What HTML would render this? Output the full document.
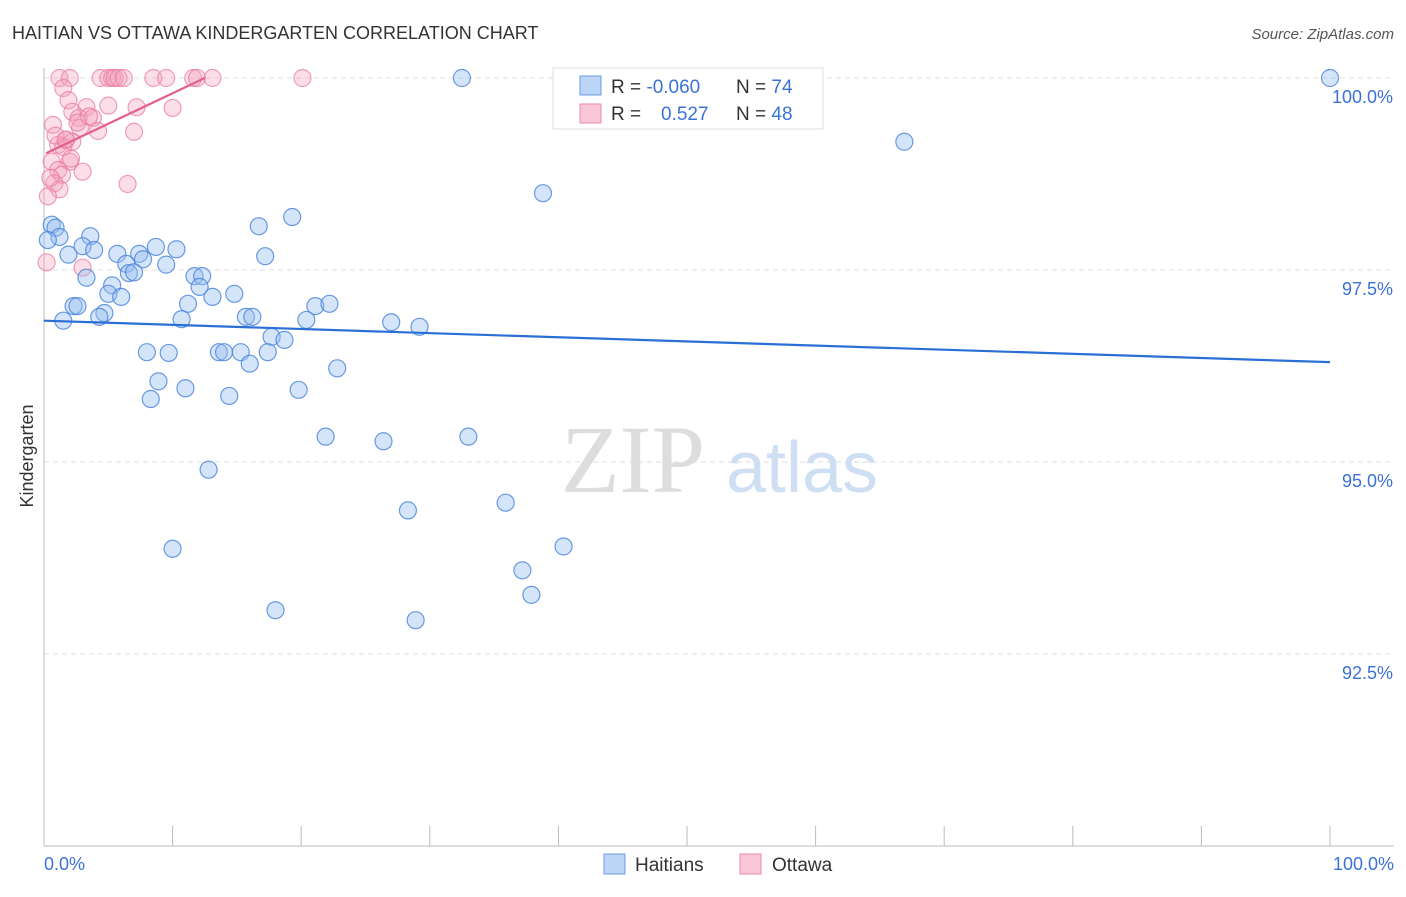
<!DOCTYPE html>
<html><head><meta charset="utf-8"><style>
body{margin:0;background:#fff;font-family:"Liberation Sans",sans-serif}
</style></head><body>
<svg width="1406" height="892" xmlns="http://www.w3.org/2000/svg">
<text x="12" y="39" font-size="18" fill="#333">HAITIAN VS OTTAWA KINDERGARTEN CORRELATION CHART</text>
<text x="1394" y="39" font-size="15" fill="#555" text-anchor="end" font-style="italic">Source: ZipAtlas.com</text>
<g id="grid"></g>
<g><text x="633" y="492" font-size="96" fill="#ddd" font-family="Liberation Serif" text-anchor="middle">ZIP</text><text x="802" y="492" font-size="72" fill="#cfdff3" text-anchor="middle">atlas</text></g>
<line x1="44" y1="68" x2="44" y2="846" stroke="#bbb"/>
<line x1="44" y1="846" x2="1394" y2="846" stroke="#bbb"/>
<g id="ticks"></g>
<g id="pts"></g>
<g id="ylab"></g>
<text x="44" y="870" font-size="18" fill="#3a72d8">0.0%</text>
<text x="1394" y="870" font-size="18" fill="#3a72d8" text-anchor="end">100.0%</text>
<text transform="translate(33,456) rotate(-90)" font-size="18" fill="#333" text-anchor="middle">Kindergarten</text>
<g>
<rect x="553" y="68" width="270" height="61" fill="#fff" stroke="#ddd"/>
<rect x="580" y="76" width="21" height="19" fill="#bcd4f5" stroke="#6a9de6"/>
<rect x="580" y="104" width="21" height="19" fill="#f9c6d6" stroke="#eb8aaa"/>
<text x="611" y="93" font-size="19" fill="#333">R = <tspan fill="#3a72d8">-0.060</tspan></text>
<text x="736" y="93" font-size="19" fill="#333">N = <tspan fill="#3a72d8">74</tspan></text>
<text x="611" y="120" font-size="19" fill="#333">R = <tspan fill="#3a72d8" x="661">0.527</tspan></text>
<text x="736" y="120" font-size="19" fill="#333">N = <tspan fill="#3a72d8">48</tspan></text>
</g>
<g>
<rect x="604" y="854" width="21" height="20" fill="#bcd4f5" stroke="#6a9de6"/>
<text x="635" y="871" font-size="19" fill="#333">Haitians</text>
<rect x="740" y="854" width="21" height="20" fill="#f9c6d6" stroke="#eb8aaa"/>
<text x="772" y="871" font-size="19" fill="#333">Ottawa</text>
</g>
</svg>
<script>
const blueX=[32.5,100,66.9,38.8,19.3,16.7,0.6,0.9,1.2,3.6,3.0,3.9,1.9,5.7,8.7,10.3,7.4,7.7,6.4,9.5,17.2,6.6,7.0,11.7,12.3,3.3,5.3,12.1,5.0,6.0,13.1,14.8,11.2,2.3,2.6,21.1,22.2,4.7,4.3,10.7,15.7,16.2,20.4,1.5,27.0,29.2,17.7,18.7,8.0,9.7,13.6,14.0,15.3,17.4,16.0,22.8,8.9,11.0,19.8,8.3,14.4,21.9,26.4,33.0,12.8,28.3,35.9,10.0,40.4,37.2,37.9,18.0,28.9,0.3];
const blueY=[100,100,99.17,98.5,98.19,98.07,98.09,98.05,97.93,97.94,97.81,97.76,97.7,97.71,97.8,97.77,97.71,97.64,97.58,97.57,97.68,97.46,97.47,97.42,97.42,97.4,97.3,97.28,97.19,97.15,97.15,97.19,97.06,97.03,97.03,97.03,97.06,96.94,96.89,96.86,96.89,96.89,96.85,96.84,96.82,96.76,96.63,96.59,96.43,96.42,96.43,96.43,96.43,96.43,96.28,96.22,96.05,95.96,95.94,95.82,95.86,95.33,95.27,95.33,94.9,94.37,94.47,93.87,93.9,93.59,93.27,93.07,92.94,97.89];
const pinkX=[1.2,2.0,4.4,5.0,5.3,5.5,5.8,6.2,8.5,9.5,11.6,11.9,13.1,20.1,1.5,1.9,5.0,3.3,7.2,10.0,2.2,2.7,3.8,0.7,2.8,4.2,7.0,1.7,1.1,2.2,1.5,0.6,2.0,1.1,1.4,3.0,0.8,1.2,6.5,0.3,3.0,0.2,0.9,2.6,1.7,0.5,3.5,2.1];
const pinkY=[100,100,100,100,100,100,100,100,100,100,100,100,100,100,99.87,99.71,99.64,99.62,99.62,99.61,99.56,99.48,99.48,99.39,99.35,99.31,99.3,99.19,99.13,99.17,99.1,98.91,98.91,98.8,98.74,98.78,98.63,98.55,98.62,98.46,97.53,97.6,99.25,99.42,99.2,98.7,99.5,98.95];
const blueTrend=[96.84,96.3];
const pinkTrend=[[0.16,99.02],[12.5,100]];
const yTicks=[100,97.5,95,92.5];
const yTickLabels=["100.0%","97.5%","95.0%","92.5%"];
const xTicks=[0,10,20,30,40,50,60,70,80,90,100];
const sx=v=>44+v*12.86, sy=v=>78+(100-v)*76.8;
const NS="http://www.w3.org/2000/svg";
function mk(p,t,a){const e=document.createElementNS(NS,t);for(const k in a)e.setAttribute(k,a[k]);p.appendChild(e);return e;}
const grid=document.getElementById('grid'),ticks=document.getElementById('ticks'),pts=document.getElementById('pts'),ylab=document.getElementById('ylab');
yTicks.forEach((v,i)=>{
 const l=mk(grid,'line',{x1:44,x2:1394,y1:sy(v),y2:sy(v),stroke:'#ddd','stroke-dasharray':'5,4'});
 
 
 const t=mk(ylab,'text',{x:1393,y:sy(v)+25,'font-size':18,fill:'#3a72d8','text-anchor':'end'});
 t.textContent=yTickLabels[i];
 
 
});
xTicks.forEach(v=>{
 const l=mk(ticks,'line',{x1:sx(v),x2:sx(v),y1:826,y2:846,stroke:'#bbb'});
 
 
});
pinkX.forEach((x,i)=>{
 const c=mk(pts,'circle',{cx:sx(x),cy:sy(pinkY[i]),r:8.5,fill:'rgba(244,160,188,0.35)',stroke:'rgba(232,120,158,0.7)','stroke-width':1.2});
 
 
});
blueX.forEach((x,i)=>{
 const c=mk(pts,'circle',{cx:sx(x),cy:sy(blueY[i]),r:8.5,fill:'rgba(150,190,240,0.4)',stroke:'rgba(70,130,220,0.8)','stroke-width':1.2});
 
 
});
const bt=mk(pts,'line',{x1:sx(0),y1:sy(blueTrend[0]),x2:sx(100),y2:sy(blueTrend[1]),stroke:'#2a6fd6','stroke-width':2.2});


const pt=mk(pts,'line',{x1:sx(pinkTrend[0][0]),y1:sy(pinkTrend[0][1]),x2:sx(pinkTrend[1][0]),y2:sy(pinkTrend[1][1]),stroke:'#e5608c','stroke-width':2.2});


</script>
</body></html>
